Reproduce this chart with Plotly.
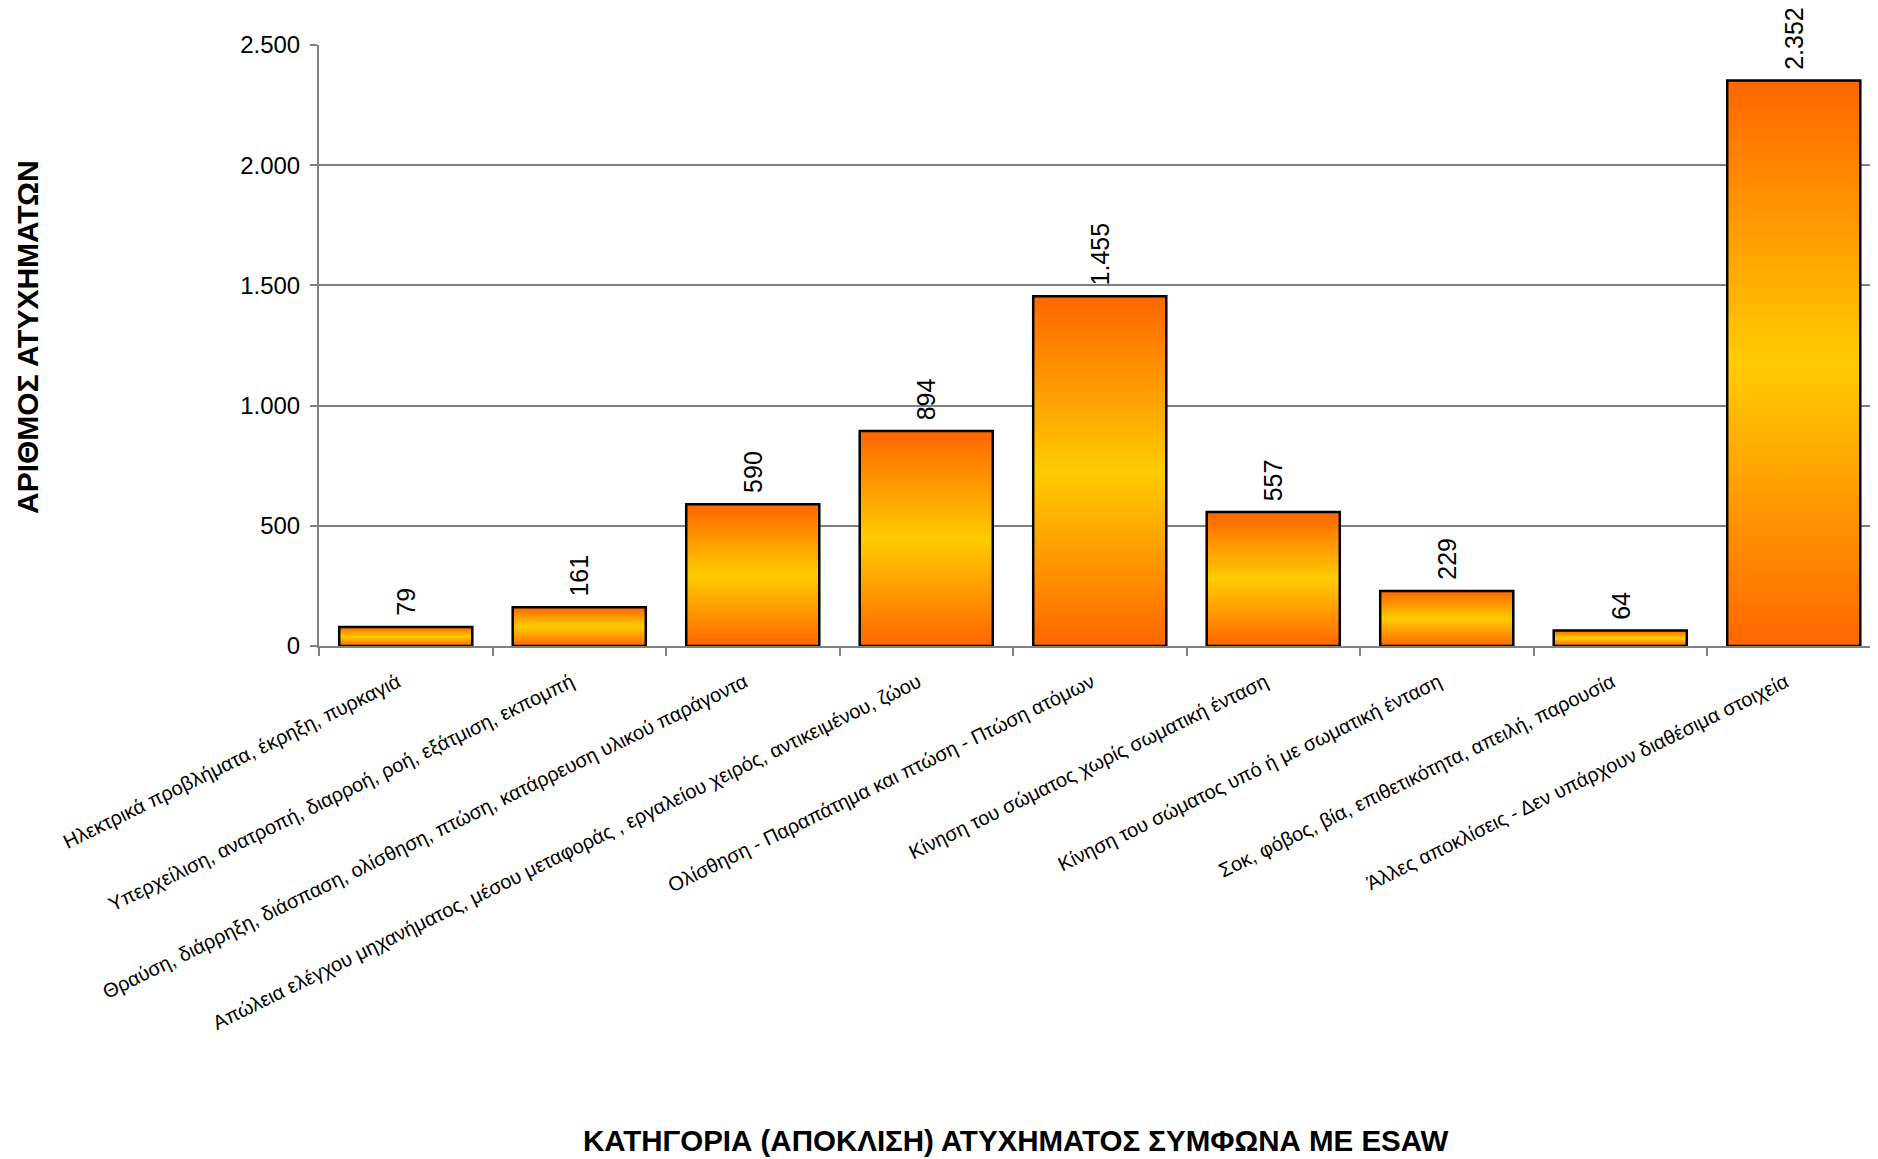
import plotly.graph_objects as go

categories = [
    "Ηλεκτρικά προβλήματα, έκρηξη, πυρκαγιά",
    "Υπερχείλιση, ανατροπή, διαρροή, ροή, εξάτμιση, εκπομπή",
    "Θραύση, διάρρηξη, διάσπαση, ολίσθηση, πτώση, κατάρρευση υλικού παράγοντα",
    "Απώλεια ελέγχου μηχανήματος, μέσου μεταφοράς , εργαλείου χειρός, αντικειμένου, ζώου",
    "Ολίσθηση - Παραπάτημα και πτώση - Πτώση ατόμων",
    "Κίνηση του σώματος χωρίς σωματική ένταση",
    "Κίνηση του σώματος υπό ή με σωματική ένταση",
    "Σοκ, φόβος, βία, επιθετικότητα, απειλή, παρουσία",
    "Άλλες αποκλίσεις - Δεν υπάρχουν διαθέσιμα στοιχεία",
]
values = [79, 161, 590, 894, 1455, 557, 229, 64, 2352]
y_ticks = [0, 500, 1000, 1500, 2000, 2500]

y_title = "ΑΡΙΘΜΟΣ ΑΤΥΧΗΜΑΤΩΝ"
x_title = "ΚΑΤΗΓΟΡΙΑ (ΑΠΟΚΛΙΣΗ) ΑΤΥΧΗΜΑΤΟΣ ΣΥΜΦΩΝΑ ΜΕ ESAW"

def gr(v):
    return f"{v:,}".replace(",", ".")

FONT = "Liberation Sans, Arial, sans-serif"
BAR_W = 0.767
OFF = 8  # page body margin
W, H = 1878 - OFF, 1159 - OFF
L, T = 319 - OFF, 45 - OFF
BOTTOM = 646 - OFF
R, B = 0, H - BOTTOM
PW, PH = W - L - R, BOTTOM - T
CAT_PX = 173.5
X_MAX = -0.5 + PW / CAT_PX

idx = list(range(len(categories)))
grad = [[0, "#FF6600"], [0.5, "#FFCC00"], [1, "#FF6600"]]

fig = go.Figure()

# gradient fills (one polygon per bar, built from the values)
for i, v in zip(idx, values):
    x0, x1 = i - BAR_W / 2, i + BAR_W / 2
    fig.add_trace(go.Scatter(
        x=[x0, x1, x1, x0, x0], y=[0, 0, v, v, 0],
        mode="lines", fill="toself",
        fillgradient=dict(type="vertical", colorscale=grad),
        line=dict(width=0), hoverinfo="skip", showlegend=False,
        xaxis="x", yaxis="y",
    ))

# bars: outlines
fig.add_trace(go.Bar(
    x=idx, y=values, width=BAR_W,
    marker=dict(color="rgba(0,0,0,0)", line=dict(color="black", width=2.5)),
    showlegend=False, xaxis="x2", yaxis="y",
))

# value labels
annotations = [
    dict(text=gr(v), x=i, y=v, xref="x", yref="y", textangle=-90,
         showarrow=False, xanchor="center", yanchor="bottom", yshift=9,
         font=dict(family=FONT, size=25, color="black"))
    for i, v in zip(idx, values)
]
annotations += [
    dict(text=f"<b>{y_title}</b>", xref="paper", yref="paper",
         x=(27 - OFF - L) / PW, y=(BOTTOM - (337 - OFF)) / PH, textangle=-90,
         showarrow=False, xanchor="center", yanchor="middle",
         font=dict(family=FONT, size=30, color="black")),
    dict(text=f"<b>{x_title}</b>", xref="paper", yref="paper",
         x=(1015 - OFF - L) / PW, y=(BOTTOM - (1140 - OFF)) / PH,
         showarrow=False, xanchor="center", yanchor="middle",
         font=dict(family=FONT, size=29.5, color="black")),
]

fig.update_layout(
    width=W, height=H,
    margin=dict(l=L, r=R, t=T, b=B, autoexpand=False),
    paper_bgcolor="white", plot_bgcolor="white",
    font=dict(family=FONT, color="black"),
    showlegend=False,
    xaxis=dict(
        range=[-0.5, X_MAX],
        tickmode="array", tickvals=idx, ticktext=categories,
        tickangle=-26, ticks="",
        tickfont=dict(family=FONT, size=20, color="black"),
        ticklabelstandoff=15, ticklabelshift=-8,
        minor=dict(tickmode="array", tickvals=[i - 0.5 for i in range(len(categories) + 1)],
                   ticks="outside", ticklen=8, tickcolor="#808080", tickwidth=1.5,
                   showgrid=False),
        showline=True, linecolor="#808080", linewidth=2,
        showgrid=False, zeroline=False, automargin=False,
    ),
    xaxis2=dict(
        range=[-0.5, X_MAX], overlaying="x", visible=False, matches="x",
    ),
    yaxis=dict(
        range=[0, 2500], tickmode="array", tickvals=y_ticks,
        ticktext=[gr(v) for v in y_ticks],
        ticks="outside", ticklen=7, tickcolor="#808080", tickwidth=1.5,
        tickfont=dict(family=FONT, size=24, color="black"),
        ticklabelstandoff=5,
        showline=True, linecolor="#808080", linewidth=2,
        showgrid=True, gridcolor="#808080", gridwidth=1.5,
        zeroline=False, automargin=False,
    ),
    annotations=annotations,
)

fig.write_html("out.html")
